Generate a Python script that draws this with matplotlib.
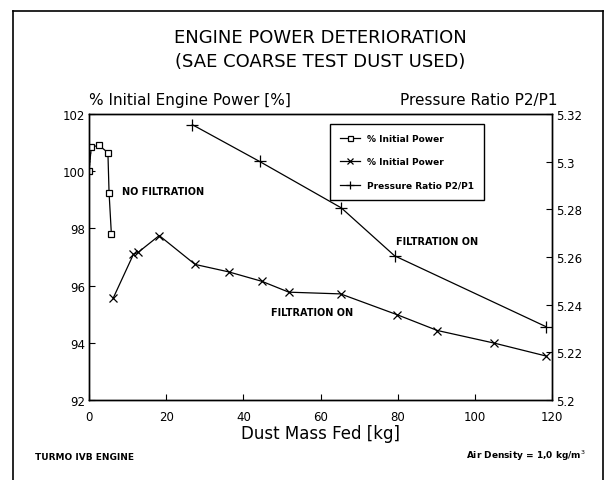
import matplotlib
matplotlib.use("Agg")
import matplotlib.pyplot as plt
from matplotlib.lines import Line2D

# data
dust_nofilt = [0, 0.6, 2.6, 4.9, 5.2, 5.8]
power_nofilt = [100.0, 100.85, 100.9, 100.65, 99.25, 97.8]

dust_filt = [6.3, 11.5, 12.8, 18.2, 27.5, 36.2, 44.8, 51.8, 65.2, 79.9, 90.3, 105, 118.4]
power_filt = [95.57, 97.09, 97.17, 97.75, 96.74, 96.48, 96.15, 95.77, 95.71, 94.98, 94.43, 93.99, 93.54]

dust_ratio = [26.8, 44.2, 65.4, 79.2, 118.4]
pressure_ratio = [5.3155, 5.3001, 5.2806, 5.2605, 5.2308]

left_ticks = [92, 94, 96, 98, 100, 102]
right_ticks = [5.2, 5.22, 5.24, 5.26, 5.28, 5.3, 5.32]
x_ticks = [0, 20, 40, 60, 80, 100, 120]

W, H = 613, 481
fig = plt.figure(figsize=(W / 100, H / 100), dpi=100)
ax = fig.add_axes([89 / W, 1 - 401 / H, (552 - 89) / W, (401 - 115) / H])
ax2 = ax.twinx()

ax.plot(dust_nofilt[:2], power_nofilt[:2], color='black', lw=0.8, ls=':')
l1, = ax.plot(dust_nofilt, power_nofilt, color='black', lw=0.9, marker='s', ms=4.5,
              mfc='white', mec='black', mew=0.9)
l2, = ax.plot(dust_filt, power_filt, color='black', lw=0.9, marker='x', ms=6, mew=0.9)
l3, = ax2.plot(dust_ratio, pressure_ratio, color='black', lw=0.9, marker='+', ms=8, mew=0.9)

ax.set_xlim(0, 120)
ax.set_ylim(92, 102)
ax2.set_ylim(5.2, 5.32)
ax.set_xticks(x_ticks)
ax.set_yticks(left_ticks)
ax2.set_yticks(right_ticks)
ax2.set_yticklabels(['5.2', '5.22', '5.24', '5.26', '5.28', '5.3', '5.32'])
for a in (ax, ax2):
    a.tick_params(direction='in', length=4, width=0.8, labelsize=8.5, pad=3)
    for s in a.spines.values():
        s.set_linewidth(1.0)
ax.tick_params(axis='x', pad=7)
ax.set_xlabel('Dust Mass Fed [kg]', fontsize=12, labelpad=1)

ax.legend([l1, l2, l3], ['% Initial Power', '% Initial Power', 'Pressure Ratio P2/P1'],
          loc='upper left', bbox_to_anchor=((330 - 89) / (552 - 89), 1 - (125 - 115) / (401 - 115)),
          prop={'size': 6.5, 'weight': 'bold'}, frameon=True, fancybox=False,
          edgecolor='black', framealpha=1, handlelength=2.2, borderpad=1.1,
          labelspacing=1.6, borderaxespad=0, markerscale=0.8)

ax.text(8.6, 99.3, 'NO FILTRATION', fontsize=7, fontweight='bold', va='center')
ax.text(79.5, 97.56, 'FILTRATION ON', fontsize=7, fontweight='bold', va='center')
ax.text(47.3, 95.08, 'FILTRATION ON', fontsize=7, fontweight='bold', va='center')

fig.text(0.5 * (89 + 552) / W, 1 - 38 / H, 'ENGINE POWER DETERIORATION', ha='center', va='center', fontsize=13)
fig.text(0.5 * (89 + 552) / W, 1 - 62 / H, '(SAE COARSE TEST DUST USED)', ha='center', va='center', fontsize=13)
fig.text(89 / W, 1 - 101 / H, '% Initial Engine Power [%]', ha='left', va='center', fontsize=11)
fig.text(557 / W, 1 - 101 / H, 'Pressure Ratio P2/P1', ha='right', va='center', fontsize=11)
fig.text(35 / W, 1 - 458 / H, 'TURMO IVB ENGINE', ha='left', va='center', fontsize=6.5, fontweight='bold')
fig.text(586 / W, 1 - 456 / H, 'Air Density = 1,0 kg/m$^{3}$', ha='right', va='center', fontsize=6.5, fontweight='bold')

# outer frame
fx0, fx1, fy0 = 13 / W, 603 / W, 1 - 12 / H
fig.add_artist(Line2D([fx0, fx0], [0, fy0], color='black', lw=1.2))
fig.add_artist(Line2D([fx0, fx1], [fy0, fy0], color='black', lw=1.2))
fig.add_artist(Line2D([fx1, fx1], [0, fy0], color='black', lw=1.2))

fig.savefig('out.png', dpi=100)
